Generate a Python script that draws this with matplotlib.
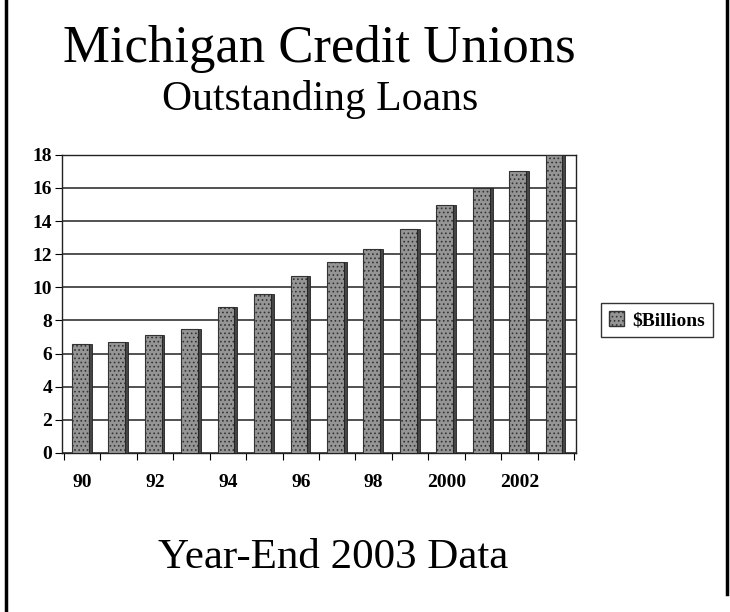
import numpy as np
import matplotlib
matplotlib.use("Agg")
import matplotlib.pyplot as plt
from matplotlib.lines import Line2D
from matplotlib.patches import Patch

# year-end outstanding loans, $ billions
years = ["90", "91", "92", "93", "94", "95", "96", "97", "98", "99",
         "2000", "2001", "2002", "2003"]
loans = [6.6, 6.7, 7.1, 7.5, 8.8, 9.6, 10.7, 11.5, 12.3, 13.5,
         15.0, 16.0, 17.0, 18.0]
yticks = [0, 2, 4, 6, 8, 10, 12, 14, 16, 18]

plt.rcParams["font.family"] = ["Liberation Serif", "DejaVu Serif"]
plt.rcParams["hatch.linewidth"] = 0.7

fig = plt.figure(figsize=(7.3, 6.12), dpi=100)
ax = fig.add_axes([0.085, 0.26, 0.704, 0.487])

x = np.arange(len(years))
ax.bar(x - 0.05, loans, width=0.46, color="#959595", edgecolor="#333333",
       hatch="....", linewidth=0.8, zorder=3)
# darker side face for the old 3-D look
ax.bar(x + 0.22, loans, width=0.08, color="#454545", edgecolor="#222222",
       linewidth=0.6, zorder=3)

ax.set_xlim(-0.55, len(years) - 0.45)
ax.set_ylim(0, 18)
ax.set_yticks(yticks)
ax.set_yticklabels([str(v) for v in yticks], fontsize=14, fontweight="bold")
ax.yaxis.grid(True, color="#222222", lw=1.1, zorder=0)

# tick marks on category boundaries, labels on every other category
ax.set_xticks(np.arange(len(years) + 1) - 0.5)
ax.set_xticklabels([])
ax.set_xticks(x[::2], minor=True)
ax.set_xticklabels(years[::2], minor=True, fontsize=14, fontweight="bold")
ax.tick_params(axis="x", which="minor", length=0, pad=15)
ax.tick_params(axis="x", which="major", length=5, direction="out")
ax.tick_params(axis="y", length=5, pad=2)
for s in ax.spines.values():
    s.set_color("#222222")
    s.set_linewidth(1.0)

ax.legend(handles=[Patch(facecolor="#959595", edgecolor="#333333", hatch="....")],
          labels=["$Billions"], loc="center left", bbox_to_anchor=(1.03, 0.446),
          frameon=True, fancybox=False, edgecolor="black", handlelength=0.8,
          handleheight=0.8, handletextpad=0.4, borderpad=0.4,
          prop={"weight": "bold", "size": 14})

fig.text(0.438, 0.899, "Michigan Credit Unions", ha="center", va="baseline", fontsize=38)
fig.text(0.438, 0.820, "Outstanding Loans", ha="center", va="baseline", fontsize=30)
fig.text(0.457, 0.0725, "Year-End 2003 Data", ha="center", va="baseline", fontsize=31)

# page border
fig.add_artist(Line2D([0.008, 0.008], [0, 1], color="black", lw=2.5))
fig.add_artist(Line2D([0.996, 0.996], [0.03, 1], color="black", lw=2.5))

plt.savefig("out.png", dpi=100)
